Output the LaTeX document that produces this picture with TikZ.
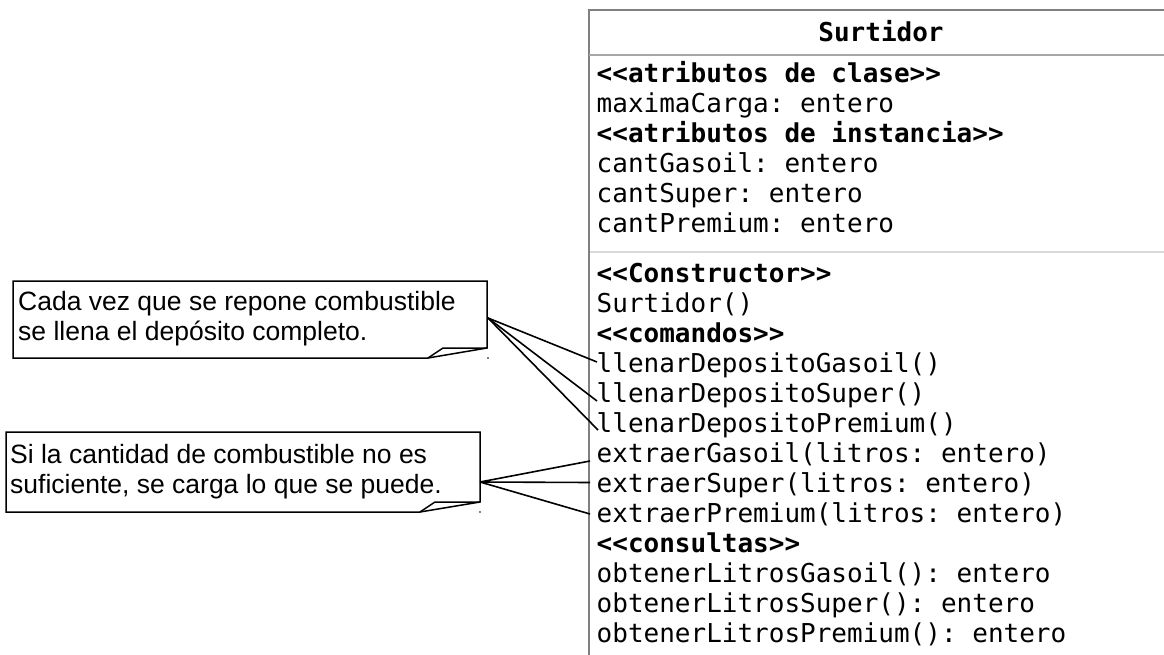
\documentclass[tikz,border=0pt]{standalone}
\usepackage{fontspec}
\setmainfont{Liberation Sans}
\setmonofont{DejaVu Sans Mono}
\begin{document}
\begin{tikzpicture}[x=1pt,y=-1pt,
  row/.style={anchor=base west, inner sep=0pt, font=\fontsize{26}{30}\ttfamily},
  strow/.style={anchor=base west, inner sep=0pt, font=\fontsize{26}{30}\ttfamily\bfseries},
  ntext/.style={anchor=base west, inner sep=0pt, font=\fontsize{26.5}{30}\selectfont},
  noteline/.style={line width=1.5pt, line join=miter},
  conn/.style={line width=1.6pt},
  border/.style={draw=black!50, line width=1.2pt},
  sep/.style={draw=black!35, line width=1.2pt},
  sepb/.style={draw=black!15, line width=2pt}]
\useasboundingbox (0,0) rectangle (1164,655);

% class box
\draw[border] (589,655) -- (589,10) -- (1170,10);
\draw[sep] (589,55) -- (1170,55);
\draw[sepb] (590,252) -- (1170,252);
\node[strow, anchor=base] (title) at (881,42) {Surtidor};

\node[strow] (a0) at (596.5,83) {<<atributos de clase>>};
\node[row]   (a1) at (596.5,113) {maximaCarga: entero};
\node[strow] (a2) at (596.5,143) {<<atributos de instancia>>};
\node[row]   (a3) at (596.5,173) {cantGasoil: entero};
\node[row]   (a4) at (596.5,203) {cantSuper: entero};
\node[row]   (a5) at (596.5,233) {cantPremium: entero};

\node[strow] (m0) at (596.5,282) {<<Constructor>>};
\node[row]   (m1) at (596.5,312) {Surtidor()};
\node[strow] (m2) at (596.5,342) {<<comandos>>};
\node[row]   (m3) at (596.5,372) {llenarDepositoGasoil()};
\node[row]   (m4) at (596.5,402) {llenarDepositoSuper()};
\node[row]   (m5) at (596.5,432) {llenarDepositoPremium()};
\node[row]   (m6) at (596.5,462) {extraerGasoil(litros: entero)};
\node[row]   (m7) at (596.5,492) {extraerSuper(litros: entero)};
\node[row]   (m8) at (596.5,522) {extraerPremium(litros: entero)};
\node[strow] (m9) at (596.5,552) {<<consultas>>};
\node[row]   (m10) at (596.5,582) {obtenerLitrosGasoil(): entero};
\node[row]   (m11) at (596.5,612) {obtenerLitrosSuper(): entero};
\node[row]   (m12) at (596.5,642) {obtenerLitrosPremium(): entero};

% note 1
\draw[noteline] (13,281) -- (487,281) -- (487,348) -- (428,358) -- (13,358) -- cycle;
\draw[noteline] (428,358) -- (443,348) -- (487,348);
\fill (488,358) circle (0.9);
\node[ntext] (n1a) at (18,310.5) {Cada vez que se repone combustible};
\node[ntext] (n1b) at (18,340.5) {se llena el depósito completo.};

% note 2
\draw[noteline] (6,432) -- (480,432) -- (480,502) -- (420,512) -- (6,512) -- cycle;
\draw[noteline] (420,512) -- (435,502) -- (480,502);
\fill (480,512) circle (0.9);
\node[ntext] (n2a) at (10,463) {Si la cantidad de combustible no es};
\node[ntext] (n2b) at (10,493) {suficiente, se carga lo que se puede.};

% connectors
\coordinate (t1) at (488,318);
\coordinate (e3) at (597,362);
\coordinate (e4) at (597,401);
\coordinate (e5) at (598,430);
\draw[conn] (t1) -- (e3);
\draw[conn] (t1) -- (e4);
\draw[conn] (t1) -- (e5);

\coordinate (t2) at (480,482);
\coordinate (e6) at (590,461);
\coordinate (e7) at (590,482.5);
\coordinate (e8) at (590,514);
\draw[conn] (t2) -- (e6);
\draw[conn] (t2) -- (e7);
\draw[conn] (t2) -- (e8);
\end{tikzpicture}
\end{document}
